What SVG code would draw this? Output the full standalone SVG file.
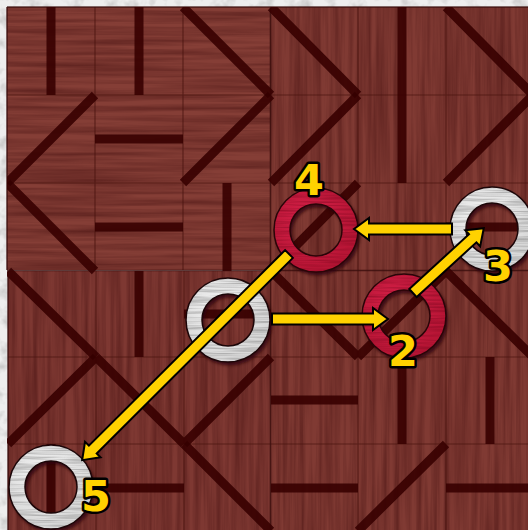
<svg xmlns="http://www.w3.org/2000/svg" xmlns:xlink="http://www.w3.org/1999/xlink" width="528" height="530" viewBox="0 0 528 530">
<style>
.grid{stroke:#4a1410;stroke-width:1.2;opacity:0.7;fill:none}
.qedge{stroke:#3a0e0c;stroke-width:1.6;fill:none;opacity:0.8}
.mark{stroke:#360606;stroke-width:9;opacity:0.9;fill:none;stroke-linecap:butt}
.arrow{fill:#ffd200;stroke:#000;stroke-width:2;stroke-linejoin:miter}
.lbl{font-family:"DejaVu Sans","Liberation Sans",sans-serif;font-weight:bold;font-size:43px;fill:#ffd200;stroke:#000;stroke-width:5;paint-order:stroke;stroke-linejoin:round;text-anchor:middle}
</style>
<defs>
<filter id="marble" x="0" y="0" width="1" height="1" color-interpolation-filters="sRGB">
<feTurbulence type="fractalNoise" baseFrequency="0.08" numOctaves="3" seed="2"/>
<feColorMatrix type="matrix" values="0 0 0 0 0.6 0 0 0 0 0.6 0 0 0 0 0.6 1.0 0 0 0 -0.45"/>
<feComposite in2="SourceGraphic" operator="atop"/>
</filter>
<filter id="woodH" x="0" y="0" width="1" height="1" color-interpolation-filters="sRGB">
<feTurbulence type="fractalNoise" baseFrequency="0.006 0.18" numOctaves="4" seed="5"/>
<feColorMatrix type="matrix" values="0 0 0 0 0.25 0 0 0 0 0.05 0 0 0 0 0.05 0.9 0 0 0 -0.28"/>
<feComposite in2="SourceGraphic" operator="atop"/>
</filter>
<filter id="woodV" x="0" y="0" width="1" height="1" color-interpolation-filters="sRGB">
<feTurbulence type="fractalNoise" baseFrequency="0.18 0.006" numOctaves="4" seed="9"/>
<feColorMatrix type="matrix" values="0 0 0 0 0.25 0 0 0 0 0.05 0 0 0 0 0.05 0.9 0 0 0 -0.28"/>
<feComposite in2="SourceGraphic" operator="atop"/>
</filter>
<filter id="soft" x="-20%" y="-20%" width="140%" height="140%">
<feGaussianBlur stdDeviation="0.6"/>
</filter>
<filter id="shadow" filterUnits="userSpaceOnUse" x="-60" y="-60" width="120" height="120">
<feGaussianBlur stdDeviation="1.5"/>
</filter>
<filter id="brush" filterUnits="userSpaceOnUse" x="-50" y="-50" width="100" height="100" color-interpolation-filters="sRGB">
<feTurbulence type="fractalNoise" baseFrequency="0.02 0.6" numOctaves="2" seed="3"/>
<feColorMatrix type="matrix" values="0 0 0 0 0.35 0 0 0 0 0.35 0 0 0 0 0.35 0.9 0 0 0 -0.35"/>
<feComposite in2="SourceGraphic" operator="atop"/>
</filter>
<filter id="brushR" filterUnits="userSpaceOnUse" x="-50" y="-50" width="100" height="100" color-interpolation-filters="sRGB">
<feTurbulence type="fractalNoise" baseFrequency="0.02 0.6" numOctaves="2" seed="7"/>
<feColorMatrix type="matrix" values="0 0 0 0 0.4 0 0 0 0 0.0 0 0 0 0 0.08 0.9 0 0 0 -0.35"/>
<feComposite in2="SourceGraphic" operator="atop"/>
</filter>
<radialGradient id="gW" cx="0.4" cy="0.35" r="0.7">
<stop offset="0" stop-color="#f6f6f6"/>
<stop offset="1" stop-color="#d8d8d8"/>
</radialGradient>
<radialGradient id="gR" cx="0.4" cy="0.35" r="0.7">
<stop offset="0" stop-color="#d8214a"/>
<stop offset="1" stop-color="#b81535"/>
</radialGradient>
<g id="ringW">
<circle r="34" fill="none" stroke="#2a0408" stroke-width="17" opacity="0.75" transform="translate(2,3)" filter="url(#shadow)"/>
<circle r="34" fill="none" stroke="url(#gW)" stroke-width="16" filter="url(#brush)"/>
<circle r="42" fill="none" stroke="#1c0608" stroke-width="1.5"/>
<circle r="26" fill="none" stroke="#1c0608" stroke-width="1.5"/>
</g>
<g id="ringR">
<circle r="34" fill="none" stroke="#2a0408" stroke-width="17" opacity="0.75" transform="translate(2,3)" filter="url(#shadow)"/>
<circle r="34" fill="none" stroke="url(#gR)" stroke-width="16" filter="url(#brushR)"/>
<circle r="42" fill="none" stroke="#2a0508" stroke-width="1.5"/>
<circle r="26" fill="none" stroke="#2a0508" stroke-width="1.5"/>
</g>
<clipPath id="board"><rect x="7" y="7" width="521" height="523"/></clipPath>
</defs>

<g id="background">
<rect x="0" y="0" width="528" height="530" fill="#eeeeee" filter="url(#marble)"/>
</g>

<g id="board">
<rect x="270" y="7" width="258" height="264" fill="#803a33" filter="url(#woodV)"/>
<rect x="8" y="271" width="263" height="259" fill="#7e3832" filter="url(#woodV)"/>
<rect x="271" y="271" width="257" height="259" fill="#803a33" filter="url(#woodV)"/>
<rect x="7" y="7" width="263" height="263" fill="#853e36" filter="url(#woodH)"/>
<path class="grid" d="M95,7V270M183,7V270M358,7V530M446,7V530M96,271V530M184,271V530M7,95H528M7,183H528M8,357H528M8,444H528"/>
<path class="qedge" d="M7,7H528M7,7V270M8,271V530M270.5,7V530M7,270.5H528"/>
</g>

<g id="tile-marks" clip-path="url(#board)" filter="url(#soft)">
<path class="mark" d="M51,7V95M139,7V95M183,7L271,95M271,7L358,95M402,7V95M446,7L533,95"/>
<path class="mark" d="M95,95L7,183M95,139H183M271,95L183,183M358,95L271,183M402,95V183M533,95L446,183"/>
<path class="mark" d="M7,183L95,271M95,227H183M227,183V271M358,183L271,271M446,227H533"/>
<path class="mark" d="M8,271L96,357M139,271V357M184,314H271M271,271L358,357M446,271L358,357M446,271L533,357"/>
<path class="mark" d="M96,357L8,444M96,357L184,444M271,357L184,444M271,400H358M402,357V444M490,357V444"/>
<path class="mark" d="M51,444V531M96,488H184M184,444L271,531M271,488H358M446,444L358,531M446,488H533"/>
</g>

<g id="ring1" transform="translate(228,320)"><use xlink:href="#ringW"/></g>
<g id="ring2" transform="translate(404,316)"><use xlink:href="#ringR"/></g>
<g id="ring3" transform="translate(492,229)"><use xlink:href="#ringW"/></g>
<g id="ring4" transform="translate(316,230)"><use xlink:href="#ringR"/></g>
<g id="ring5" transform="translate(51,487)"><use xlink:href="#ringW"/></g>

<g id="connectors">
<path class="arrow" transform="translate(272,319)" d="M0,-5.5H101V-11L116,0L101,11V5.5H0Z"/>
<path class="arrow" transform="translate(413,293) rotate(-42.5)" d="M0,-5.5H81V-11L96,0L81,11V5.5H0Z"/>
<path class="arrow" transform="translate(452,229) rotate(180)" d="M0,-5.5H83V-11L98,0L83,11V5.5H0Z"/>
<path class="arrow" transform="translate(289,254) rotate(135.1)" d="M0,-5.5H277V-11L292,0L277,11V5.5H0Z"/>
</g>

<g id="labels">
<text class="lbl" x="309" y="195">4</text>
<text class="lbl" x="498" y="281">3</text>
<text class="lbl" x="403" y="366">2</text>
<text class="lbl" x="96" y="511">5</text>
</g>
</svg>
